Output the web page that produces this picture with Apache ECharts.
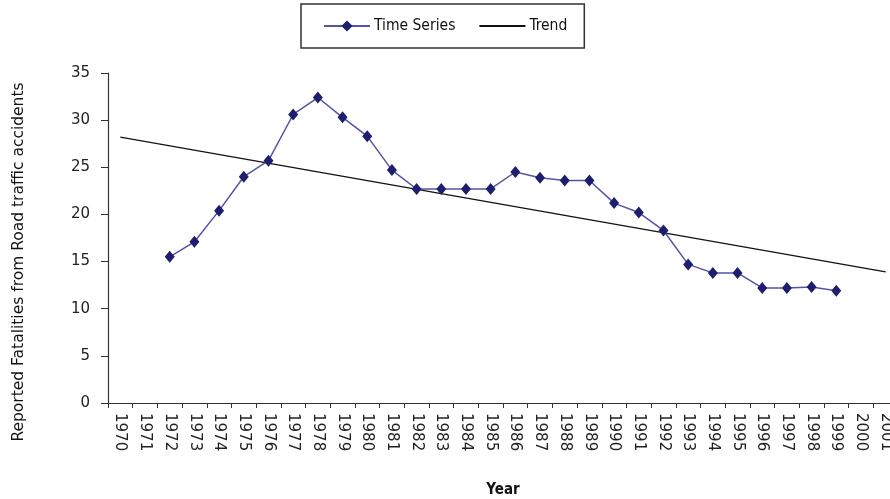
<!DOCTYPE html>
<html>
<head>
<meta charset="utf-8">
<script src="https://cdn.jsdelivr.net/npm/echarts@6/dist/echarts.min.js"></script>
<style>
  html, body { margin: 0; padding: 0; background: #fff; }
  #chart { width: 890px; height: 499px; }
</style>
</head>
<body>
<div id="chart"></div>
<script>
// years on the category axis
const years = ['1970','1971','1972','1973','1974','1975','1976','1977','1978','1979',
  '1980','1981','1982','1983','1984','1985','1986','1987','1988','1989',
  '1990','1991','1992','1993','1994','1995','1996','1997','1998','1999',
  '2000','2001']

// reported fatalities (1972 - 1999)
const timeSeries = [null, null,
  15.5, 17.1, 20.4, 24.0, 25.7, 30.6, 32.4, 30.3,
  28.3, 24.7, 22.7, 22.7, 22.7, 22.7, 24.5, 23.9, 23.6, 23.6,
  21.2, 20.2, 18.3, 14.7, 13.8, 13.8, 12.2, 12.2, 12.3, 11.9,
  null, null]

// trend line end points (1970 and 2001)
const trendStart = 28.2
const trendEnd = 13.9

const yTicks = { min: 0, max: 35, interval: 5 }

const trend = years.map((y, i) => i === 0 ? trendStart : (i === years.length - 1 ? trendEnd : null))

const chart = echarts.init(document.getElementById('chart'))

chart.setOption({
  backgroundColor: '#fff',
  animation: false,
  textStyle: { fontFamily: 'DejaVu Sans' },
  legend: {
    left: 301,
    top: 4,
    padding: [14, 17, 14, 22],
    itemGap: 23,
    itemWidth: 46,
    itemHeight: 14,
    borderColor: '#333',
    borderWidth: 1.5,
    textStyle: {
      fontFamily: 'DejaVu Sans Condensed',
      fontSize: 15.5,
      color: '#111',
      padding: [0, 0, 0, -1]
    },
    data: [
      'Time Series',
      { name: 'Trend', itemStyle: { color: 'transparent', borderWidth: 0 } }
    ]
  },
  grid: {
    left: 108,
    top: 73,
    right: -8,
    bottom: 96,
    containLabel: false,
    outerBoundsMode: 'none'
  },
  xAxis: {
    type: 'category',
    data: years,
    boundaryGap: true,
    name: 'Year',
    nameLocation: 'middle',
    nameGap: 80,
    nameTextStyle: { fontFamily: 'DejaVu Sans Condensed', fontWeight: 'bold', fontSize: 15, color: '#111' },
    axisLine: { lineStyle: { color: '#333', width: 1.2 } },
    axisTick: { show: true, interval: 0, length: 5, lineStyle: { color: '#333' } },
    axisLabel: {
      interval: 0,
      rotate: -90,
      margin: 10,
      fontSize: 15,
      color: '#222'
    },
    splitLine: { show: false }
  },
  yAxis: {
    type: 'value',
    min: yTicks.min,
    max: yTicks.max,
    interval: yTicks.interval,
    axisLine: { show: true, lineStyle: { color: '#333', width: 1.2 } },
    axisTick: { show: true, length: 7, lineStyle: { color: '#333' } },
    axisLabel: { margin: 18, fontSize: 15, color: '#222' },
    splitLine: { show: false }
  },
  graphic: [{
    type: 'text',
    x: 19,
    y: 262,
    rotation: Math.PI / 2,
    style: {
      text: 'Reported Fatalities from Road traffic accidents',
      fontFamily: 'DejaVu Sans',
      fontSize: 15.5,
      fill: '#111',
      align: 'center',
      verticalAlign: 'middle'
    }
  }],
  series: [
    {
      name: 'Time Series',
      type: 'line',
      data: timeSeries,
      symbol: 'diamond',
      symbolSize: [10, 12],
      itemStyle: { color: '#1e1e6e' },
      lineStyle: { color: '#5454a4', width: 1.5 },
      z: 3
    },
    {
      name: 'Trend',
      type: 'line',
      data: trend,
      connectNulls: true,
      symbol: 'none',
      itemStyle: { color: '#111' },
      lineStyle: { color: '#111', width: 1.2 },
      z: 2
    }
  ]
})
</script>
</body>
</html>
